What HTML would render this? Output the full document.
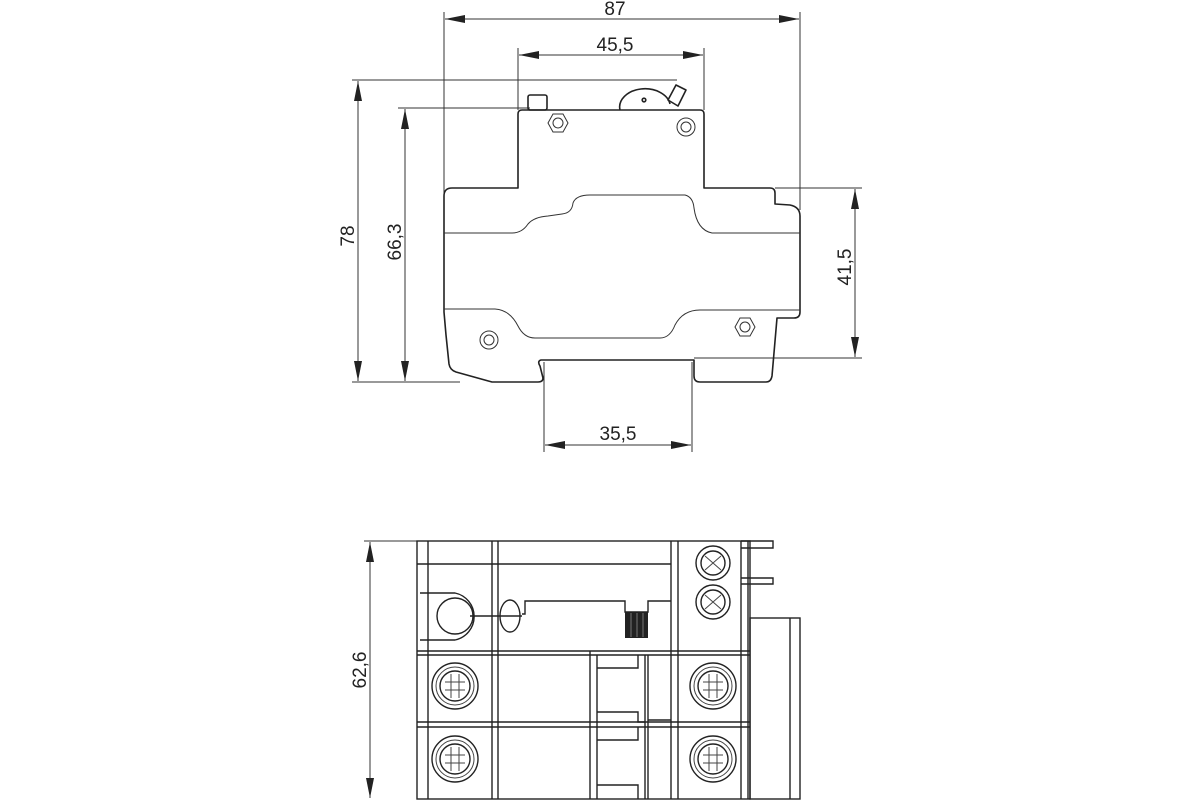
<!DOCTYPE html>
<html><head><meta charset="utf-8"><style>
html,body{margin:0;padding:0;background:#fff;}
svg{display:block;}
text{font-family:"Liberation Sans",sans-serif;font-size:19px;fill:#222;}
</style></head><body>
<svg width="1200" height="800" viewBox="0 0 1200 800" xmlns="http://www.w3.org/2000/svg">
<defs>
<marker id="a" viewBox="0 0 20 8" refX="20" refY="4" markerWidth="20" markerHeight="8" markerUnits="userSpaceOnUse" orient="auto-start-reverse"><path d="M0,0 L20,4 L0,8 Z" fill="#222"/></marker>
</defs>
<g stroke="#333" stroke-width="1" fill="none">
<line x1="444" y1="12" x2="444" y2="240"/>
<line x1="800" y1="12" x2="800" y2="210"/>
<line x1="518" y1="48" x2="518" y2="110"/>
<line x1="704" y1="48" x2="704" y2="110"/>
<line x1="352" y1="80" x2="677" y2="80"/>
<line x1="352" y1="382" x2="460" y2="382"/>
<line x1="398" y1="108" x2="530" y2="108"/>
<line x1="775" y1="188" x2="862" y2="188"/>
<line x1="694" y1="358" x2="862" y2="358"/>
<line x1="544" y1="362" x2="544" y2="452"/>
<line x1="692" y1="362" x2="692" y2="452"/>
<line x1="364" y1="541" x2="417" y2="541"/>
<line x1="445" y1="19" x2="799" y2="19" marker-start="url(#a)" marker-end="url(#a)"/>
<line x1="519" y1="55" x2="703" y2="55" marker-start="url(#a)" marker-end="url(#a)"/>
<line x1="358" y1="81" x2="358" y2="381" marker-start="url(#a)" marker-end="url(#a)"/>
<line x1="405" y1="109" x2="405" y2="381" marker-start="url(#a)" marker-end="url(#a)"/>
<line x1="855" y1="189" x2="855" y2="357" marker-start="url(#a)" marker-end="url(#a)"/>
<line x1="545" y1="445" x2="691" y2="445" marker-start="url(#a)" marker-end="url(#a)"/>
<line x1="370" y1="542" x2="370" y2="798" marker-start="url(#a)" marker-end="url(#a)"/>
</g>
<text x="615" y="15" text-anchor="middle">87</text>
<text x="615" y="51" text-anchor="middle">45,5</text>
<text x="618" y="440" text-anchor="middle">35,5</text>
<text transform="translate(354,236) rotate(-90)" text-anchor="middle">78</text>
<text transform="translate(401,242) rotate(-90)" text-anchor="middle">66,3</text>
<text transform="translate(851,267) rotate(-90)" text-anchor="middle">41,5</text>
<text transform="translate(366,670) rotate(-90)" text-anchor="middle">62,6</text>

<g stroke="#222" stroke-width="1.6" fill="none" stroke-linejoin="round">
<path d="M518,188 L518,114 Q518,110 522,110 L700,110 Q704,110 704,114 L704,188 L770,188 Q775,188 775,193 L775,204 L790,205 Q800,207 800,216 L800,312 Q800,318 794,318 L777,318 L772,376 Q771,382 766,382 L700,382 Q694,382 694,376 L694,360 L541,360 Q537,361 540,366 L543,378 Q543,382 538,382 L492,382 L456,372 Q450,370 449,364 L446,335 L444,312 L444,196 Q444,188 452,188 Z"/>
<rect x="528" y="95" width="19" height="15" rx="2"/>
<path d="M620,110 A25,18 0 0 1 670,104"/>
<circle cx="644" cy="100" r="1.8"/>
<path d="M668,100 L676,85 L686,90 L678,106 Z"/>
</g>
<g stroke="#333" stroke-width="1" fill="none">
<path d="M444,233 L512,233 Q522,233 528,224 Q534,217 548,216 L562,214 Q572,213 573,203 Q576,195 590,195 L685,195 Q693,197 694,208 Q697,230 712,233 L800,233"/>
<path d="M444,309 L495,309 Q510,310 518,326 Q524,338 535,338 L660,338 Q670,338 675,325 Q683,310 700,310 L800,310"/>
<polygon points="548,123 553,114 563,114 568,123 563,132 553,132"/>
<circle cx="558" cy="123" r="5"/>
<circle cx="686" cy="127" r="9"/><circle cx="686" cy="127" r="5"/>
<circle cx="489" cy="340" r="9"/><circle cx="489" cy="340" r="5"/>
<polygon points="735,327 740,318 750,318 755,327 750,336 740,336"/>
<circle cx="745" cy="327" r="5"/>
</g>

<g stroke="#222" stroke-width="1.4" fill="none">
<rect x="417" y="541" width="333" height="258"/>
<rect x="750" y="618" width="50" height="181"/>
<line x1="790" y1="618" x2="790" y2="799"/>
<line x1="741" y1="541" x2="741" y2="799"/>
<line x1="748" y1="541" x2="748" y2="799"/>
<path d="M741,541 L773,541 L773,548 L741,548"/>
<path d="M741,578 L773,578 L773,584 L741,584"/>
<line x1="428" y1="541" x2="428" y2="799"/>
<line x1="492" y1="541" x2="492" y2="799"/>
<line x1="498" y1="541" x2="498" y2="799"/>
<line x1="671" y1="541" x2="671" y2="799"/>
<line x1="678" y1="541" x2="678" y2="799"/>
<line x1="417" y1="564" x2="671" y2="564"/>
<line x1="417" y1="651" x2="750" y2="651"/>
<line x1="417" y1="655" x2="750" y2="655"/>
<line x1="417" y1="722" x2="750" y2="722"/>
<line x1="417" y1="727" x2="750" y2="727"/>
<path d="M420,593 L455,593 A24,24 0 0 1 455,640 L420,640"/>
<circle cx="455" cy="616" r="18"/>
<ellipse cx="510" cy="616" rx="10" ry="16"/>
<path d="M522,614 L525,614 L525,601 L625,601 L625,612 L648,612 L648,601 L671,601"/>
<line x1="470" y1="616" x2="522" y2="616"/>
<line x1="590" y1="651" x2="590" y2="799"/>
<line x1="597" y1="655" x2="597" y2="799"/>
<path d="M597,668 L638,668 L638,655 M597,712 L638,712 L638,722 L645,722"/>
<path d="M597,740 L638,740 L638,727 M597,785 L638,785 L638,799"/>
<line x1="645" y1="655" x2="645" y2="799"/>
<line x1="648" y1="655" x2="648" y2="799"/>
<line x1="648" y1="720" x2="671" y2="720"/>
<circle cx="713" cy="563" r="17"/><circle cx="713" cy="563" r="12"/>
<circle cx="713" cy="602" r="17"/><circle cx="713" cy="602" r="12"/>
<circle cx="455" cy="686" r="23"/><circle cx="455" cy="686" r="15"/>
<circle cx="455" cy="759" r="23"/><circle cx="455" cy="759" r="15"/>
<circle cx="713" cy="686" r="23"/><circle cx="713" cy="686" r="15"/>
<circle cx="713" cy="759" r="23"/><circle cx="713" cy="759" r="15"/>
</g>
<g stroke="#444" stroke-width="1" fill="none">
<circle cx="455" cy="686" r="19"/><circle cx="455" cy="759" r="19"/><circle cx="713" cy="686" r="19"/><circle cx="713" cy="759" r="19"/>
<path d="M705,556 l16,14 M721,556 l-16,14 M705,595 l16,14 M721,595 l-16,14"/>
<path d="M451,674 v24 M459,674 v24 M445,682 h20 M445,690 h20"/>
<path d="M451,747 v24 M459,747 v24 M445,755 h20 M445,763 h20"/>
<path d="M709,674 v24 M717,674 v24 M703,682 h20 M703,690 h20"/>
<path d="M709,747 v24 M717,747 v24 M703,755 h20 M703,763 h20"/>
</g>
<rect x="625" y="612" width="23" height="26" fill="#222"/>
<g stroke="#777" stroke-width="1"><line x1="631" y1="613" x2="631" y2="637"/><line x1="637" y1="613" x2="637" y2="637"/><line x1="643" y1="613" x2="643" y2="637"/></g>
</svg>
</body></html>
